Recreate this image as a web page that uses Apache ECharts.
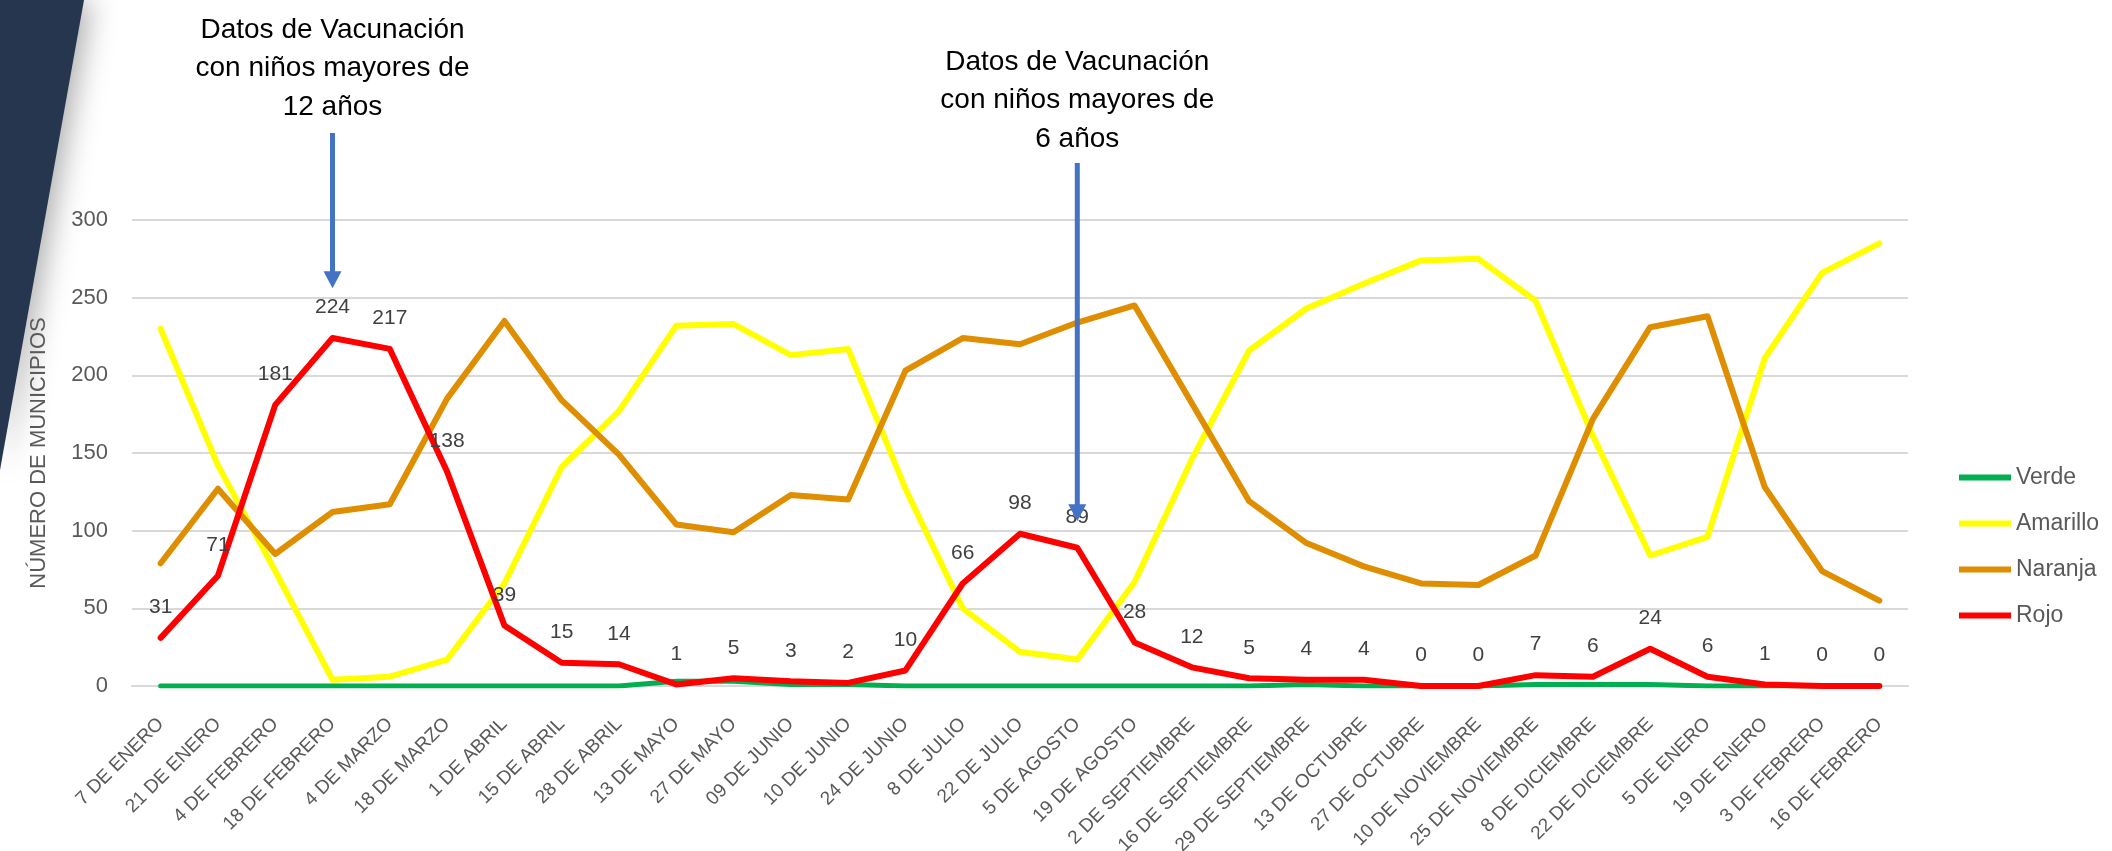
<!DOCTYPE html>
<html>
<head>
<meta charset="utf-8">
<script src="https://cdn.jsdelivr.net/npm/echarts@6/dist/echarts.min.js"></script>
<style>
html,body{margin:0;padding:0;background:#fff;}
#chart{width:2112px;height:851px;}
</style>
</head>
<body>
<div id="chart"></div>
<script>
const categories = ['7 DE ENERO','21 DE ENERO','4 DE FEBRERO','18 DE FEBRERO','4 DE MARZO','18 DE MARZO','1 DE ABRIL','15 DE ABRIL','28 DE ABRIL','13 DE MAYO','27 DE MAYO','09 DE JUNIO','10 DE JUNIO','24 DE JUNIO','8 DE JULIO','22 DE JULIO','5 DE AGOSTO','19 DE AGOSTO','2 DE SEPTIEMBRE','16 DE SEPTIEMBRE','29 DE SEPTIEMBRE','13 DE OCTUBRE','27 DE OCTUBRE','10 DE NOVIEMBRE','25 DE NOVIEMBRE','8 DE DICIEMBRE','22 DE DICIEMBRE','5 DE ENERO','19 DE ENERO','3 DE FEBRERO','16 DE FEBRERO'];
const verde    = [0,0,0,0,0,0,0,0,0,3,3,1,1,0,0,0,0,0,0,0,1,0,0,0,1,1,1,0,0,0,0];
const amarillo = [230,142,74,4,6,17,66,141,177,232,233,213,217,127,50,22,17,67,146,216,243,259,274,275,248,161,84,96,211,266,285];
const naranja  = [79,127,85,112,117,185,235,184,149,104,99,123,120,203,224,220,234,245,182,119,92,77,66,65,84,172,231,238,128,74,55];
const rojo     = [31,71,181,224,217,138,39,15,14,1,5,3,2,10,66,98,89,28,12,5,4,4,0,0,7,6,24,6,1,0,0];
const seriesNames = ['Verde','Amarillo','Naranja','Rojo'];
const yTicks = [0,50,100,150,200,250,300];
const yAxisTitle = 'NÚMERO DE MUNICIPIOS';
const notes = [
  {cat:'18 DE FEBRERO', lines:['Datos de Vacunación','con niños mayores de','12 años'], tipValue:256},
  {cat:'5 DE AGOSTO', lines:['Datos de Vacunación','con niños mayores de','6 años'], tipValue:106}
];

const FONT = '"Liberation Sans", Arial, sans-serif';
const colors = ['#00B050','#FFFF00','#DE8E00','#FF0000'];
const seriesData = [verde, amarillo, naranja, rojo];

const chart = echarts.init(document.getElementById('chart'), null, {renderer:'canvas'});

const option = {
  backgroundColor: '#ffffff',
  animation: false,
  textStyle: {fontFamily: FONT},
  grid: {left: 132, right: 204, top: 220, bottom: 165, containLabel: false, outerBoundsMode: 'none'},
  legend: {
    orient: 'vertical',
    left: 1954, top: 461,
    itemWidth: 52, itemHeight: 6, itemGap: 23,
    icon: 'rect',
    data: seriesNames,
    itemStyle: {opacity: 1},
    textStyle: {fontSize: 23, color: '#595959', fontFamily: FONT}
  },
  xAxis: {
    type: 'category',
    data: categories,
    boundaryGap: true,
    axisLine: {show: true, lineStyle: {color: '#D9D9D9', width: 2}},
    axisTick: {show: false},
    axisLabel: {rotate: 45, fontSize: 19, color: '#595959', margin: 35, interval: 0, fontFamily: FONT}
  },
  yAxis: {
    type: 'value',
    min: yTicks[0], max: yTicks[yTicks.length-1], interval: 50,
    name: yAxisTitle,
    nameLocation: 'middle',
    nameGap: 82,
    nameRotate: 90,
    nameTextStyle: {fontSize: 22, color: '#595959', fontFamily: FONT},
    axisLine: {show: false},
    axisTick: {show: false},
    axisLabel: {fontSize: 22, color: '#595959', margin: 24, fontFamily: FONT},
    splitLine: {lineStyle: {color: '#D9D9D9', width: 2}}
  },
  series: seriesNames.map((n, i) => ({
    name: n,
    type: 'line',
    data: seriesData[i],
    symbol: 'circle',
    symbolSize: 0.01,
    showSymbol: true,
    itemStyle: {color: colors[i]},
    color: colors[i],
    lineStyle: {width: i === 0 ? 5 : 6, color: colors[i], join: 'round', cap: 'round'},
    z: 2 + i,
    label: i === 3 ? {show: true, position: 'top', distance: 20, fontSize: 21, color: '#404040', fontFamily: FONT} : {show: false},
    labelLayout: i === 3 ? {hideOverlap: false} : undefined
  }))
};
chart.setOption(option);

function buildGraphics() {
  const g = [];
  // dark decorative band at left
  g.push({type:'polygon', z: -10, shape:{points:[[0,0],[84,0],[0,470]]},
    style:{fill:'#26364F', shadowBlur: 30, shadowColor:'rgba(0,0,0,0.35)', shadowOffsetX: 6}});
  notes.forEach(nt => {
    const x = chart.convertToPixel({xAxisIndex:0}, nt.cat);
    const tipY = chart.convertToPixel({yAxisIndex:0}, nt.tipValue);
    const isFirst = nt.tipValue > 200;
    const textTop = isFirst ? 30 : 62;
    const shaftTop = isFirst ? 133 : 163;
    nt.lines.forEach((ln, k) => {
      g.push({type:'text', z: 50, x: x, y: textTop + k*38.5,
        style:{text: ln, fill:'#000000', font: '28px ' + FONT, align:'center', verticalAlign:'middle'}});
    });
    g.push({type:'rect', z: 50, shape:{x: x-2.5, y: shaftTop, width: 5, height: tipY - 16 - shaftTop},
      style:{fill:'#4472C4'}});
    g.push({type:'polygon', z: 50, shape:{points:[[x-9, tipY-17],[x+9, tipY-17],[x, tipY]]},
      style:{fill:'#4472C4'}});
  });
  chart.setOption({graphic: g});
}
buildGraphics();
</script>
</body>
</html>
